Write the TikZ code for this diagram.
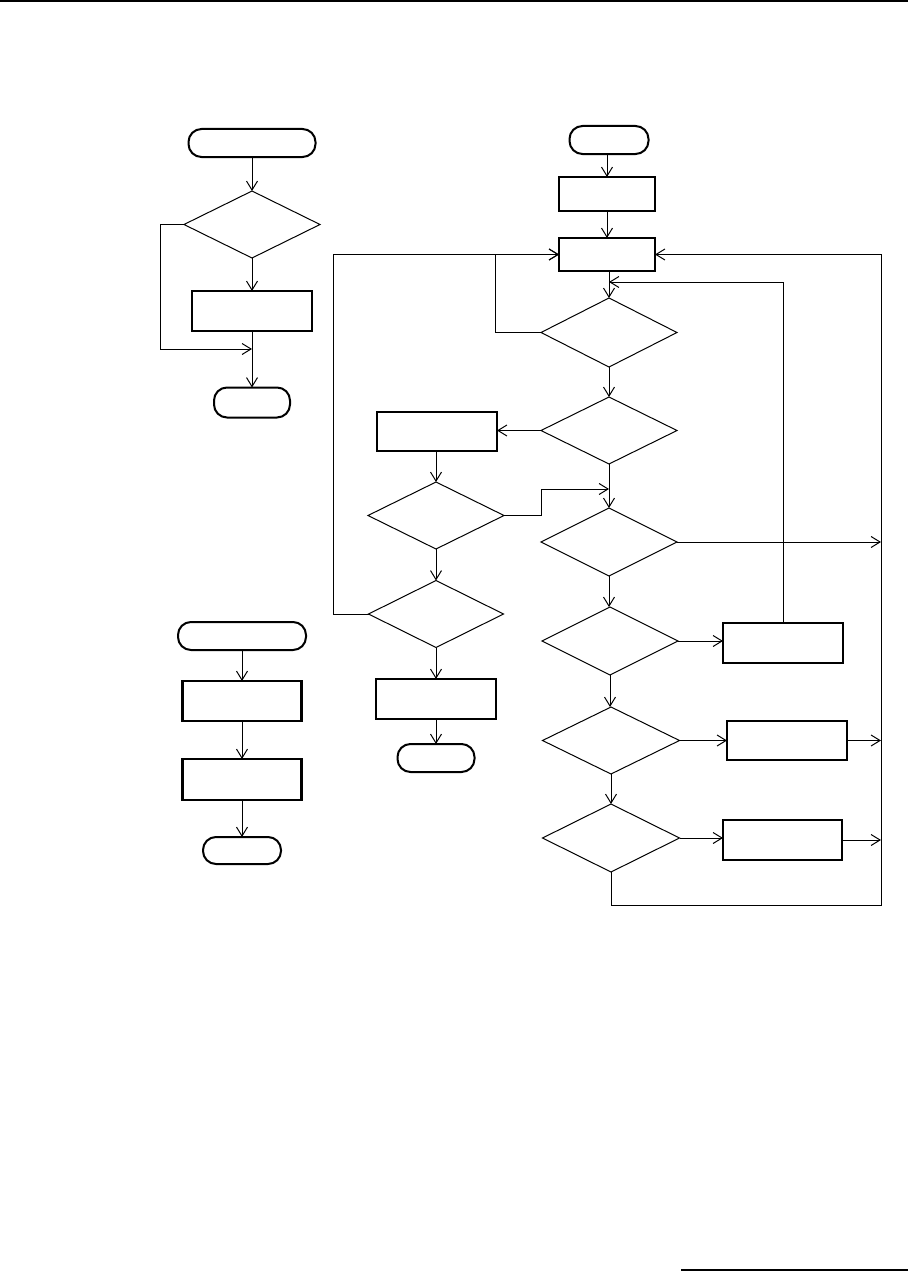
\documentclass[tikz,border=0pt]{standalone}
\usetikzlibrary{shapes.geometric,arrows.meta}
\begin{document}
\begin{tikzpicture}[x=1pt,y=-1pt,
  procbox/.style={draw,rectangle,line width=2.6pt,inner sep=0pt,outer sep=0pt,minimum width=120pt,minimum height=40pt},
  decision/.style={draw,diamond,line width=1pt,inner sep=0pt,outer sep=0pt,minimum width=136pt,minimum height=67pt},
  term/.style={draw,rectangle,rounded corners=13pt,line width=2pt,inner sep=0pt,outer sep=0pt,minimum height=28pt},
  flow/.style={line width=1pt,-{Straight Barb[length=9pt,width=11pt]}},
  plain/.style={line width=1pt}]
\useasboundingbox (0,0) rectangle (908,1271);
\draw[line width=2pt] (0,1) -- (908,1);
\draw[line width=1.5pt] (681,1270) -- (908,1270);

% chart A (top left)
\node[term,minimum width=127pt] (a0) at (252,143) {};
\node[decision] (a1) at (252,224.5) {};
\node[procbox] (a2) at (252,311) {};
\node[term,minimum width=76pt,minimum height=30pt] (a3) at (252,402.5) {};
\coordinate (aj) at (252,349);
\draw[flow] (a0) -- (a1);
\draw[flow] (a1) -- (a2);
\draw[flow] (a1.west) -- ++(-24,0) |- (aj);
\draw[flow] (a2) -- (a3);

% main chart
\node[term,minimum width=79pt] (m0) at (609,140) {};
\node[procbox,minimum width=96pt,minimum height=34pt] (m1) at (607,194) {};
\node[procbox,minimum width=96pt,minimum height=33pt] (m2) at (607,254.5) {};
\node[decision,minimum height=69pt] (d1) at (609,332.5) {};
\node[decision] (d2) at (609,430.5) {};
\node[decision,minimum height=68pt] (d3) at (609,542) {};
\node[decision,minimum height=68pt] (d4) at (610,641) {};
\node[decision,minimum width=137pt] (d5) at (611,740.5) {};
\node[decision,minimum width=137pt,minimum height=68pt] (d6) at (611,838) {};

% left column
\node[procbox,minimum height=39pt] (l1) at (437,431.5) {};
\node[decision] (l2) at (436,515.5) {};
\node[decision,minimum width=135pt] (l3) at (436,614) {};
\node[procbox] (l4) at (436,699) {};
\node[term,minimum width=77pt] (l5) at (436,758) {};

% right column
\node[procbox] (r1) at (783,643) {};
\node[procbox,minimum height=39pt] (r2) at (787,740.5) {};
\node[procbox,minimum width=119pt] (r3) at (782.5,840) {};

% chart B (bottom left)
\node[term,minimum width=128pt] (b0) at (242,636) {};
\node[procbox,minimum width=119pt] (b1) at (242,701) {};
\node[procbox,minimum width=119pt,minimum height=41pt] (b2) at (242,779.5) {};
\node[term,minimum width=78pt,minimum height=27pt] (b3) at (242,850.5) {};

\coordinate (j1) at (609,282);
\coordinate (j2) at (609,489);
\coordinate (rb) at (881,905);

\draw[flow] (m0.south -| m1) -- (m1);
\draw[flow] (m1) -- (m2);
\draw[flow] (m2.south -| d1) -- (d1);
\draw[flow] (r1.north) |- (j1);
\draw[flow] (d6.south) |- (rb) |- (m2.east);
\draw[flow] (d1.west) -| (495,254.5) -- (m2.west);
\draw[flow] (l3.west) -| (333,254.5) -- (m2.west);
\draw[flow] (d1) -- (d2);
\draw[flow] (d2) -- (d3);
\draw[flow] (d2.west) -- (l1.east |- d2.west);
\draw[flow] (l1.south -| l2) -- (l2);
\draw[flow] (l2) -- (l3);
\draw[flow] (l3) -- (l4);
\draw[flow] (l4) -- (l5);
\draw[flow] (l2.east) -- ++(37,0) |- (j2);
\draw[flow] (d3.east) -- (d3.east -| rb);
\draw[flow] (d3.south) -- (d3.south |- d4.north);
\draw[flow] (d4.south) -- (d4.south |- d5.north);
\draw[flow] (d5) -- (d6);
\draw[flow] (d4.east) -- (r1.west |- d4.east);
\draw[flow] (d5.east) -- (r2.west |- d5.east);
\draw[flow] (d6.east) -- (r3.west |- d6.east);
\draw[flow] (r2.east) -- (r2.east -| rb);
\draw[flow] (r3.east) -- (r3.east -| rb);
\draw[flow] (b0) -- (b1);
\draw[flow] (b1) -- (b2);
\draw[flow] (b2) -- (b3);
\end{tikzpicture}
\end{document}
